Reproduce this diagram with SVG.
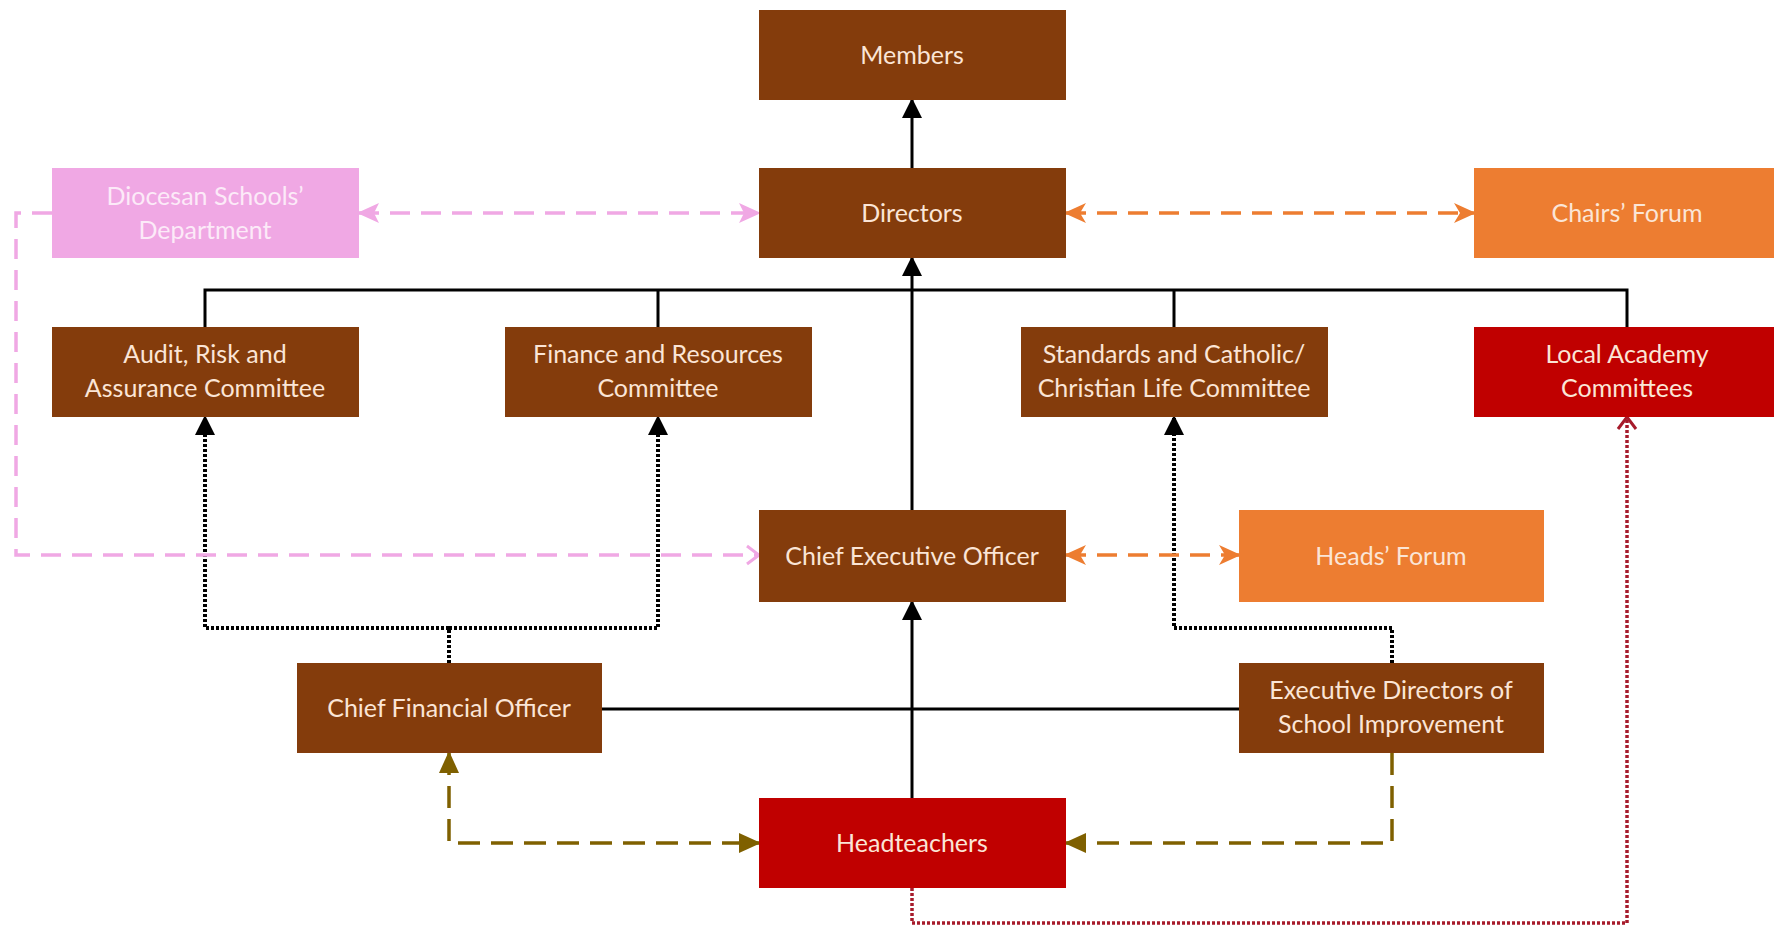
<svg xmlns="http://www.w3.org/2000/svg" width="1774" height="928" viewBox="0 0 1774 928">
<style>
.box{stroke:none}
.brown{fill:#843C0C}
.red{fill:#C00000}
.orange{fill:#ED7D31}
.pink{fill:#F0A8E4}
text{font-family:Lato,"Liberation Sans",sans-serif;font-size:25px;text-anchor:middle;fill:#FBE5D6}
text.pt{fill:#FCEAF8}
.solid{fill:none;stroke:#000;stroke-width:3}
.dot{fill:none;stroke:#000;stroke-width:4;stroke-dasharray:3 2}
.pinkd{fill:none;stroke:#F0A8E4;stroke-width:3.5;stroke-dasharray:20 11}
.orad{fill:none;stroke:#ED7D31;stroke-width:3.5;stroke-dasharray:20 11}
.olive{fill:none;stroke:#7F6000;stroke-width:3.5;stroke-dasharray:22 11}
.reddot{fill:none;stroke:#A61B2B;stroke-width:3.5;stroke-dasharray:3 2}
</style>
<defs>
<marker id="aBlack" markerUnits="userSpaceOnUse" markerWidth="20" markerHeight="20" viewBox="0 0 20 20" refX="18" refY="10" orient="auto-start-reverse"><path d="M0,0 L20,10 L0,20 Z" fill="#000"/></marker>
<marker id="aPink" markerUnits="userSpaceOnUse" markerWidth="22" markerHeight="22" viewBox="0 0 22 22" refX="20" refY="11" orient="auto-start-reverse"><path d="M0,1 L22,11 L0,21 L5,11 Z" fill="#F0A8E4"/></marker>
<marker id="oPink" markerUnits="userSpaceOnUse" markerWidth="16" markerHeight="22" viewBox="0 0 16 22" refX="14" refY="11" orient="auto"><path d="M2,2 L14,11 L2,20" fill="none" stroke="#F0A8E4" stroke-width="3"/></marker>
<marker id="aOrange" markerUnits="userSpaceOnUse" markerWidth="22" markerHeight="22" viewBox="0 0 22 22" refX="20" refY="11" orient="auto-start-reverse"><path d="M0,1 L22,11 L0,21 L6,11 Z" fill="#ED7D31"/></marker>
<marker id="aOlive" markerUnits="userSpaceOnUse" markerWidth="22" markerHeight="22" viewBox="0 0 22 22" refX="20" refY="11" orient="auto-start-reverse"><path d="M0,1 L22,11 L0,21 Z" fill="#7F6000"/></marker>
<marker id="oRed" markerUnits="userSpaceOnUse" markerWidth="16" markerHeight="22" viewBox="0 0 16 22" refX="14" refY="11" orient="auto"><path d="M2,2 L14,11 L2,20" fill="none" stroke="#A61B2B" stroke-width="3"/></marker>
</defs>
<rect width="1774" height="928" fill="#fff"/>
<g id="connectors">
<path class="solid" d="M912,168 V100" marker-end="url(#aBlack)"/>
<path class="solid" d="M912,510 V258" marker-end="url(#aBlack)"/>
<path class="solid" d="M205,327 V290 H1627 V327 M658,290 V327 M1174,290 V327"/>
<path class="solid" d="M912,798 V602" marker-end="url(#aBlack)"/>
<path class="solid" d="M601,709 H1239"/>
<path class="dot" d="M449,663 V628 H205 V417" marker-end="url(#aBlack)"/>
<path class="dot" d="M449,628 H658 V417" marker-end="url(#aBlack)"/>
<path class="dot" d="M1392,663 V628 H1174 V417" marker-end="url(#aBlack)"/>
<path class="pinkd" d="M359,213 H759" marker-start="url(#aPink)" marker-end="url(#aPink)"/>
<path class="pinkd" d="M52,213 H16 V555 H759" marker-end="url(#oPink)"/>
<path class="orad" d="M1066,213 H1474" marker-start="url(#aOrange)" marker-end="url(#aOrange)"/>
<path class="orad" d="M1066,555 H1239" marker-start="url(#aOrange)" marker-end="url(#aOrange)"/>
<path class="olive" d="M449,753 V843 H759" marker-start="url(#aOlive)" marker-end="url(#aOlive)"/>
<path class="olive" d="M1392,753 V843 H1066" marker-end="url(#aOlive)"/>
<path class="reddot" d="M912,888 V923 H1627 V417" marker-end="url(#oRed)"/>
</g>
<g id="members"><rect class="box brown" x="759" y="10" width="307" height="90"/><text x="912" y="64">Members</text></g>
<g id="directors"><rect class="box brown" x="759" y="168" width="307" height="90"/><text x="912" y="222">Directors</text></g>
<g id="diocesan"><rect class="box pink" x="52" y="168" width="307" height="90"/><text class="pt" x="205" y="205">Diocesan Schools’</text><text class="pt" x="205" y="239">Department</text></g>
<g id="chairs-forum"><rect class="box orange" x="1474" y="168" width="310" height="90"/><text x="1627" y="222">Chairs’ Forum</text></g>
<g id="audit"><rect class="box brown" x="52" y="327" width="307" height="90"/><text x="205" y="363">Audit, Risk and</text><text x="205" y="397">Assurance Committee</text></g>
<g id="finance"><rect class="box brown" x="505" y="327" width="307" height="90"/><text x="658" y="363">Finance and Resources</text><text x="658" y="397">Committee</text></g>
<g id="standards"><rect class="box brown" x="1021" y="327" width="307" height="90"/><text x="1174" y="363">Standards and Catholic/</text><text x="1174" y="397">Christian Life Committee</text></g>
<g id="lac"><rect class="box red" x="1474" y="327" width="310" height="90"/><text x="1627" y="363">Local Academy</text><text x="1627" y="397">Committees</text></g>
<g id="ceo"><rect class="box brown" x="759" y="510" width="307" height="92"/><text x="912" y="565">Chief Executive Officer</text></g>
<g id="heads-forum"><rect class="box orange" x="1239" y="510" width="305" height="92"/><text x="1391" y="565">Heads’ Forum</text></g>
<g id="cfo"><rect class="box brown" x="297" y="663" width="305" height="90"/><text x="449" y="717">Chief Financial Officer</text></g>
<g id="exec-directors"><rect class="box brown" x="1239" y="663" width="305" height="90"/><text x="1391" y="699">Executive Directors of</text><text x="1391" y="733">School Improvement</text></g>
<g id="headteachers"><rect class="box red" x="759" y="798" width="307" height="90"/><text x="912" y="852">Headteachers</text></g>
</svg>
